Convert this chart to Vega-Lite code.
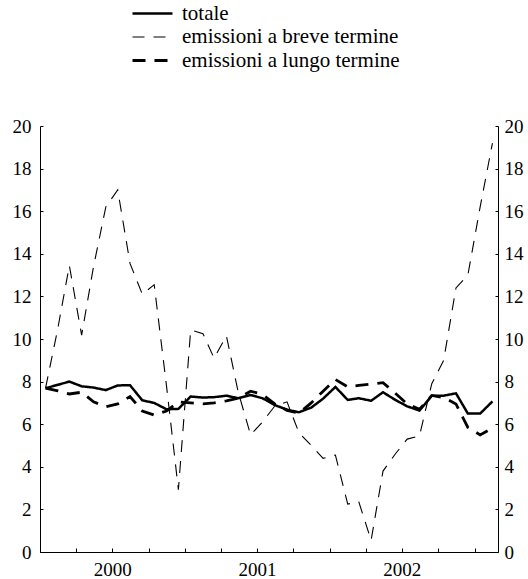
{
  "$schema": "https://vega.github.io/schema/vega-lite/v6.json",
  "width": 458,
  "height": 426,
  "autosize": {"type": "none"},
  "padding": {"left": 40, "top": 126, "right": 30, "bottom": 27},
  "background": "white",
  "config": {
    "view": {"stroke": null},
    "font": "Liberation Serif",
    "axis": {
      "grid": false,
      "title": null,
      "domainColor": "black",
      "domainWidth": 1,
      "tickColor": "black",
      "labelColor": "black",
      "labelFont": "Liberation Serif",
      "labelFontSize": 19
    },
    "legend": {
      "symbolType": "M-2.5,0H2.5",
      "symbolSize": 256,
      "symbolStrokeColor": "black",
      "symbolFillColor": "transparent",
      "labelFont": "Liberation Serif",
      "labelFontSize": 21,
      "labelColor": "black",
      "labelLimit": 400,
      "rowPadding": 1.5,
      "labelOffset": 19,
      "padding": 0
    }
  },
  "data": {
    "values": [
      {"date": "2000-01-15", "totale": 7.69, "emissioni a breve termine": 7.69, "emissioni a lungo termine": 7.69},
      {"date": "2000-02-15", "totale": 7.85, "emissioni a breve termine": 10.5, "emissioni a lungo termine": 7.57},
      {"date": "2000-03-15", "totale": 8.0, "emissioni a breve termine": 13.45, "emissioni a lungo termine": 7.42},
      {"date": "2000-04-15", "totale": 7.78, "emissioni a breve termine": 10.18, "emissioni a lungo termine": 7.5},
      {"date": "2000-05-15", "totale": 7.72, "emissioni a breve termine": 13.4, "emissioni a lungo termine": 7.05},
      {"date": "2000-06-15", "totale": 7.6, "emissioni a breve termine": 16.2, "emissioni a lungo termine": 6.82},
      {"date": "2000-07-15", "totale": 7.82, "emissioni a breve termine": 17.0, "emissioni a lungo termine": 6.95},
      {"date": "2000-08-15", "totale": 7.83, "emissioni a breve termine": 13.55, "emissioni a lungo termine": 7.3},
      {"date": "2000-09-15", "totale": 7.12, "emissioni a breve termine": 12.1, "emissioni a lungo termine": 6.62},
      {"date": "2000-10-15", "totale": 7.0, "emissioni a breve termine": 12.55, "emissioni a lungo termine": 6.43},
      {"date": "2000-11-15", "totale": 6.7, "emissioni a breve termine": 7.8, "emissioni a lungo termine": 6.62},
      {"date": "2000-12-15", "totale": 6.72, "emissioni a breve termine": 2.93, "emissioni a lungo termine": 7.05},
      {"date": "2001-01-15", "totale": 7.3, "emissioni a breve termine": 10.42, "emissioni a lungo termine": 7.0},
      {"date": "2001-02-15", "totale": 7.25, "emissioni a breve termine": 10.25, "emissioni a lungo termine": 6.95},
      {"date": "2001-03-15", "totale": 7.27, "emissioni a breve termine": 9.1, "emissioni a lungo termine": 7.0},
      {"date": "2001-04-15", "totale": 7.34, "emissioni a breve termine": 10.15, "emissioni a lungo termine": 7.1},
      {"date": "2001-05-15", "totale": 7.22, "emissioni a breve termine": 7.5, "emissioni a lungo termine": 7.22},
      {"date": "2001-06-15", "totale": 7.37, "emissioni a breve termine": 5.5, "emissioni a lungo termine": 7.55},
      {"date": "2001-07-15", "totale": 7.22, "emissioni a breve termine": 6.1, "emissioni a lungo termine": 7.4},
      {"date": "2001-08-15", "totale": 6.9, "emissioni a breve termine": 6.85, "emissioni a lungo termine": 6.95},
      {"date": "2001-09-15", "totale": 6.68, "emissioni a breve termine": 7.05, "emissioni a lungo termine": 6.65},
      {"date": "2001-10-15", "totale": 6.56, "emissioni a breve termine": 5.6, "emissioni a lungo termine": 6.52},
      {"date": "2001-11-15", "totale": 6.78, "emissioni a breve termine": 5.0, "emissioni a lungo termine": 7.0},
      {"date": "2001-12-15", "totale": 7.2, "emissioni a breve termine": 4.4, "emissioni a lungo termine": 7.55},
      {"date": "2002-01-15", "totale": 7.75, "emissioni a breve termine": 4.55, "emissioni a lungo termine": 8.1},
      {"date": "2002-02-15", "totale": 7.14, "emissioni a breve termine": 2.25, "emissioni a lungo termine": 7.75},
      {"date": "2002-03-15", "totale": 7.22, "emissioni a breve termine": 2.35, "emissioni a lungo termine": 7.82},
      {"date": "2002-04-15", "totale": 7.1, "emissioni a breve termine": 0.55, "emissioni a lungo termine": 7.88},
      {"date": "2002-05-15", "totale": 7.5, "emissioni a breve termine": 3.8, "emissioni a lungo termine": 7.95},
      {"date": "2002-06-15", "totale": 7.14, "emissioni a breve termine": 4.6, "emissioni a lungo termine": 7.45},
      {"date": "2002-07-15", "totale": 6.84, "emissioni a breve termine": 5.3, "emissioni a lungo termine": 6.95},
      {"date": "2002-08-15", "totale": 6.64, "emissioni a breve termine": 5.45, "emissioni a lungo termine": 6.7},
      {"date": "2002-09-15", "totale": 7.33, "emissioni a breve termine": 7.9, "emissioni a lungo termine": 7.35},
      {"date": "2002-10-15", "totale": 7.34, "emissioni a breve termine": 9.0, "emissioni a lungo termine": 7.25},
      {"date": "2002-11-15", "totale": 7.45, "emissioni a breve termine": 12.4, "emissioni a lungo termine": 6.95},
      {"date": "2002-12-15", "totale": 6.5, "emissioni a breve termine": 13.0, "emissioni a lungo termine": 5.85},
      {"date": "2003-01-15", "totale": 6.5, "emissioni a breve termine": 16.2, "emissioni a lungo termine": 5.5},
      {"date": "2003-02-15", "totale": 7.07, "emissioni a breve termine": 19.2, "emissioni a lungo termine": 5.82}
    ]
  },
  "transform": [
    {"fold": ["totale", "emissioni a breve termine", "emissioni a lungo termine"], "as": ["serie", "valore"]}
  ],
  "encoding": {
    "x": {
      "field": "date",
      "type": "temporal",
      "scale": {
        "type": "utc",
        "domain": [
          {"year": 2000, "month": 1, "date": 1, "utc": true},
          {"year": 2003, "month": 3, "date": 1, "utc": true}
        ]
      },
      "axis": {
        "tickCount": {"interval": "month", "step": 3},
        "tickSize": -4,
        "labelPadding": 12,
        "labelExpr": "utcmonth(datum.value) == 6 ? utcFormat(datum.value, '%Y') : ''",
        "labelFlush": false,
        "labelOverlap": false,
        "encode": {
          "ticks": {"update": {"y2": {"signal": "utcmonth(datum.value) == 0 ? -9 : -4"}}}
        }
      }
    }
  },
  "layer": [
    {
      "mark": {"type": "line", "color": "black", "interpolate": "linear"},
      "encoding": {
        "y": {
          "field": "valore",
          "type": "quantitative",
          "scale": {"domain": [0, 20], "nice": false, "zero": true},
          "axis": {"orient": "left", "values": [0, 2, 4, 6, 8, 10, 12, 14, 16, 18, 20], "tickSize": -3, "labelPadding": 12}
        },
        "strokeDash": {
          "field": "serie",
          "type": "nominal",
          "scale": {
            "domain": ["totale", "emissioni a breve termine", "emissioni a lungo termine"],
            "range": [[1, 0], [12, 9], [13, 9]]
          },
          "legend": {"title": null, "orient": "none", "legendX": 102, "legendY": -123, "direction": "vertical"}
        },
        "strokeWidth": {
          "field": "serie",
          "type": "nominal",
          "scale": {
            "type": "ordinal",
            "domain": ["totale", "emissioni a breve termine", "emissioni a lungo termine"],
            "range": [2.5, 1.1, 2.8]
          },
          "legend": {"title": null, "orient": "none", "legendX": 102, "legendY": -123, "direction": "vertical"}
        }
      }
    },
    {
      "mark": {"type": "line", "opacity": 0},
      "encoding": {
        "y": {
          "field": "valore",
          "type": "quantitative",
          "axis": {"orient": "right", "values": [0, 2, 4, 6, 8, 10, 12, 14, 16, 18, 20], "tickSize": -3, "labelPadding": 9}
        },
        "detail": {"field": "serie", "type": "nominal"}
      }
    }
  ],
  "resolve": {"axis": {"y": "independent"}}
}
